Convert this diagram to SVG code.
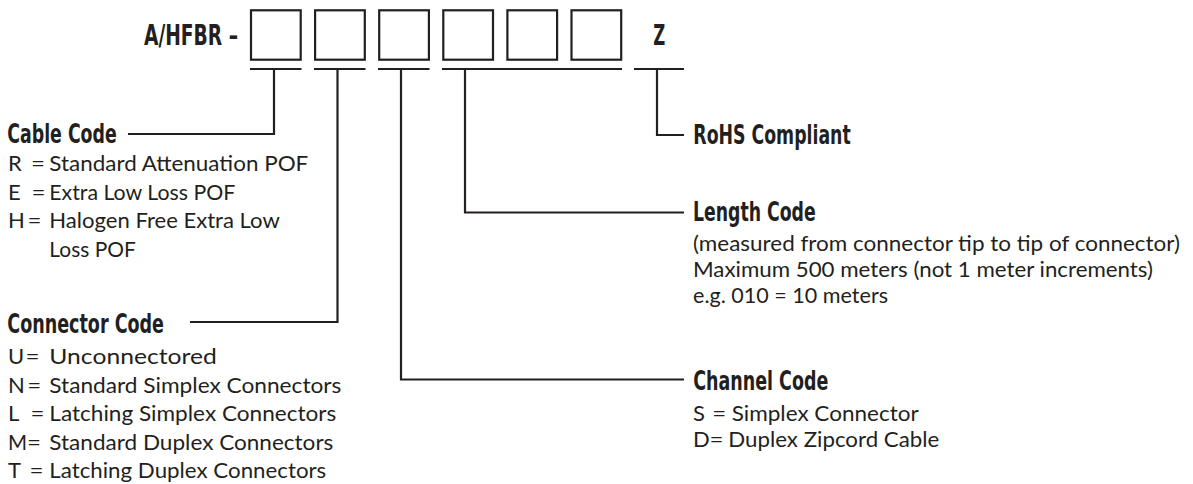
<svg xmlns="http://www.w3.org/2000/svg" width="1193" height="484" viewBox="0 0 1193 484">
<style>
.h{font-family:'Liberation Sans Narrow','DejaVu Sans Condensed','Liberation Sans',sans-serif;font-weight:bold;font-size:27px;fill:#231f20}
.t{font-family:Lato,'Open Sans','Liberation Sans',sans-serif;font-size:22px;fill:#231f20}
.ln{fill:none;stroke:#231f20;stroke-width:2.2}
.bx{fill:#fff;stroke:#231f20;stroke-width:2.2}
</style>
<rect width="1193" height="484" fill="#fff"/>
<g id="part-number">
<text class="h" x="144" y="45" textLength="94" lengthAdjust="spacingAndGlyphs" style="font-size:28px">A/HFBR –</text>
<rect class="bx" x="251" y="10.3" width="49.7" height="49.4"/>
<rect class="bx" x="315.1" y="10.3" width="49.7" height="49.4"/>
<rect class="bx" x="379.2" y="10.3" width="49.7" height="49.4"/>
<rect class="bx" x="443.3" y="10.3" width="49.7" height="49.4"/>
<rect class="bx" x="507.4" y="10.3" width="49.7" height="49.4"/>
<rect class="bx" x="571.5" y="10.3" width="49.7" height="49.4"/>
<text class="h" x="653.3" y="45" textLength="12" lengthAdjust="spacingAndGlyphs" style="font-size:28px">Z</text>
</g>
<g id="connectors">
<path class="ln" d="M250 69H301.5M314 69H365.5M378 69H429.5M442 69H622M634 69H684"/>
<path class="ln" d="M274 69V134H128"/>
<path class="ln" d="M337.5 69V322H190"/>
<path class="ln" d="M401 69V379.5H684"/>
<path class="ln" d="M465 69V212.5H684"/>
<path class="ln" d="M657 69V135H684"/>
</g>
<g id="cable-code">
<text class="h" x="7.3" y="142.5" textLength="109.4" lengthAdjust="spacingAndGlyphs">Cable Code</text>
<text class="t" x="8" y="171">R</text><text class="t" x="31" y="171" textLength="14" lengthAdjust="spacingAndGlyphs">=</text><text class="t" x="49.3" y="171" textLength="259" lengthAdjust="spacingAndGlyphs">Standard Attenuation POF</text>
<text class="t" x="8" y="199.5">E</text><text class="t" x="31.5" y="199.5" textLength="14" lengthAdjust="spacingAndGlyphs">=</text><text class="t" x="49.3" y="199.5" textLength="186" lengthAdjust="spacingAndGlyphs">Extra Low Loss POF</text>
<text class="t" x="8" y="228">H</text><text class="t" x="27.5" y="228" textLength="14" lengthAdjust="spacingAndGlyphs">=</text><text class="t" x="49.3" y="228" textLength="230.5" lengthAdjust="spacingAndGlyphs">Halogen Free Extra Low</text>
<text class="t" x="49.3" y="256.5" textLength="86.5" lengthAdjust="spacingAndGlyphs">Loss POF</text>
</g>
<g id="connector-code">
<text class="h" x="7.3" y="332.5" textLength="156.7" lengthAdjust="spacingAndGlyphs">Connector Code</text>
<text class="t" x="8" y="364">U</text><text class="t" x="25.5" y="364" textLength="14" lengthAdjust="spacingAndGlyphs">=</text><text class="t" x="49.3" y="364" textLength="167.5" lengthAdjust="spacingAndGlyphs">Unconnectored</text>
<text class="t" x="8" y="392.5">N</text><text class="t" x="27.3" y="392.5" textLength="14" lengthAdjust="spacingAndGlyphs">=</text><text class="t" x="49.3" y="392.5" textLength="292" lengthAdjust="spacingAndGlyphs">Standard Simplex Connectors</text>
<text class="t" x="8" y="421">L</text><text class="t" x="30.5" y="421" textLength="14" lengthAdjust="spacingAndGlyphs">=</text><text class="t" x="49.3" y="421" textLength="287" lengthAdjust="spacingAndGlyphs">Latching Simplex Connectors</text>
<text class="t" x="8" y="449.5" style="font-size:20.5px">M</text><text class="t" x="27" y="449.5" textLength="14" lengthAdjust="spacingAndGlyphs">=</text><text class="t" x="49.3" y="449.5" textLength="284" lengthAdjust="spacingAndGlyphs">Standard Duplex Connectors</text>
<text class="t" x="8" y="478">T</text><text class="t" x="29.5" y="478" textLength="14" lengthAdjust="spacingAndGlyphs">=</text><text class="t" x="49.3" y="478" textLength="277" lengthAdjust="spacingAndGlyphs">Latching Duplex Connectors</text>
</g>
<g id="rohs">
<text class="h" x="693.3" y="143.5" textLength="157.4" lengthAdjust="spacingAndGlyphs">RoHS Compliant</text>
</g>
<g id="length-code">
<text class="h" x="693" y="221" textLength="122.7" lengthAdjust="spacingAndGlyphs">Length Code</text>
<text class="t" x="693" y="250.5" textLength="487" lengthAdjust="spacingAndGlyphs">(measured from connector tip to tip of connector)</text>
<text class="t" x="693" y="276.5" textLength="460" lengthAdjust="spacingAndGlyphs">Maximum 500 meters (not 1 meter increments)</text>
<text class="t" x="693" y="302.5" textLength="195" lengthAdjust="spacingAndGlyphs">e.g. 010 = 10 meters</text>
</g>
<g id="channel-code">
<text class="h" x="693.3" y="390" textLength="135" lengthAdjust="spacingAndGlyphs">Channel Code</text>
<text class="t" x="693" y="420.5">S</text><text class="t" x="712.3" y="420.5" textLength="14" lengthAdjust="spacingAndGlyphs">=</text><text class="t" x="731.7" y="420.5" textLength="187" lengthAdjust="spacingAndGlyphs">Simplex Connector</text>
<text class="t" x="693" y="447">D</text><text class="t" x="709.5" y="447" textLength="14" lengthAdjust="spacingAndGlyphs">=</text><text class="t" x="728.3" y="447" textLength="211" lengthAdjust="spacingAndGlyphs">Duplex Zipcord Cable</text>
</g>
</svg>
